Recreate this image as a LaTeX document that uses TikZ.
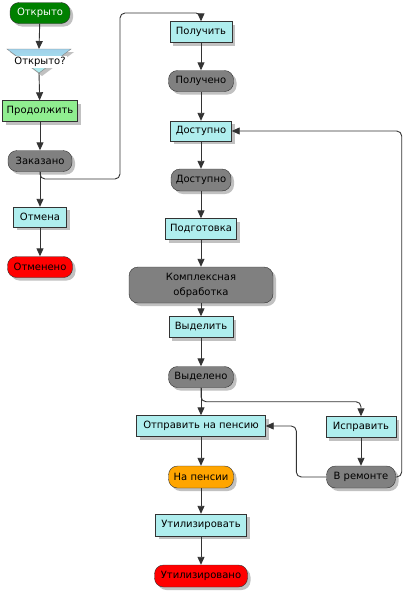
\documentclass[tikz,border=0pt]{standalone}
\usepackage{fontspec}
\setmainfont{DejaVu Sans}
\usepackage{xcolor}
\usepackage{tikz}
\usetikzlibrary{shadows}
\usetikzlibrary{arrows.meta}

\definecolor{turq}{RGB}{175,238,238}
\definecolor{palegr}{RGB}{144,238,144}
\definecolor{darkgr}{RGB}{0,128,0}
\definecolor{ltblue}{RGB}{160,210,235}
\definecolor{orng}{RGB}{255,165,0}

\begin{document}
\begin{tikzpicture}[
	x=1pt,y=-1pt,
	font=\fontsize{10}{15}\selectfont
]
\tikzset{
    myrect/.style = {rectangle, draw=black!80, align=center, fill=turq, minimum height=21pt, inner sep=2pt,
                     drop shadow={shadow xshift=3pt,shadow yshift=-3pt,fill=black!35,opacity=0.7}},
    mystate/.style = {myrect, rounded corners=9pt, fill=gray},
    myline/.style = {draw=black!80, line width=0.9pt, -{Triangle[length=8pt,width=7pt]}, rounded corners=5pt}
}
\useasboundingbox (0,0) rectangle (405,592);

% left column
\node[mystate,fill=darkgr,text=white,minimum width=60pt] (otk) at (40,13) {Открыто};
\fill[black!35,opacity=0.7] (10,52) -- (74,52) -- (42,76) -- cycle;
\draw[draw=black!50,top color=ltblue,bottom color=turq] (7,49) -- (71,49) -- (39,73) -- cycle;
\coordinate (qtop) at (39,49);
\coordinate (qtip) at (39,73);
\node[fill=white,inner sep=1pt] (q) at (40,62) {Открыто?};
\node[myrect,fill=palegr,minimum width=75pt] (prod) at (40,111) {Продолжить};
\node[mystate,minimum width=64pt] (zak) at (40,161) {Заказано};
\node[myrect,minimum width=53pt,minimum height=20pt] (otm) at (40,217) {Отмена};
\node[mystate,fill=red,minimum width=65pt] (otmd) at (40,267) {Отменено};

% right column
\node[myrect,minimum width=62pt] (pol) at (201,32) {Получить};
\node[mystate,minimum width=65pt] (polo) at (201,81) {Получено};
\node[myrect,minimum width=61pt,minimum height=20pt] (dost) at (201,131) {Доступно};
\node[mystate,minimum width=60pt,minimum height=22pt] (dosto) at (201,180) {Доступно};
\node[myrect,minimum width=71pt] (podg) at (201,229) {Подготовка};
\node[mystate,minimum width=144pt,minimum height=36pt] (kompl) at (201,285) {Комплексная\\обработка};
\node[myrect,minimum width=64pt] (vyd) at (201,327) {Выделить};
\node[mystate,minimum width=65pt] (vydo) at (201,377) {Выделено};
\node[myrect,minimum width=129pt] (otpr) at (201,426) {Отправить на пенсию};
\node[myrect,minimum width=70pt] (ispr) at (361,427) {Исправить};
\node[mystate,fill=orng,minimum width=65pt,minimum height=22pt] (nap) at (201,477) {На пенсии};
\node[mystate,minimum width=69pt,minimum height=22pt] (rem) at (361,477) {В ремонте};
\node[myrect,minimum width=91pt,minimum height=22pt] (util) at (201,525) {Утилизировать};
\node[mystate,fill=red,minimum width=93pt,minimum height=22pt] (utilo) at (201,576) {Утилизировано};

\coordinate (tb) at (120,179);
\coordinate (ta) at (120,13);

% connectors
\draw[myline] (otk) -- (qtop);
\draw[myline] (qtip) -- (prod);
\draw[myline] (prod) -- (zak);
\draw[myline] (zak) -- (otm);
\draw[myline] (otm) -- (otmd);
\draw[myline] (zak.south) |- (tb) -- (ta) -| (pol.north);
\draw[myline] (pol) -- (polo);
\draw[myline] (polo) -- (dost);
\draw[myline] (dost) -- (dosto);
\draw[myline] (dosto) -- (podg);
\draw[myline] (podg) -- (kompl);
\draw[myline] (kompl) -- (vyd);
\draw[myline] (vyd) -- (vydo);
\draw[myline] (vydo) -- (otpr);
\draw[myline] (vydo.south) -- ++(0,14) -| (ispr.north);
\draw[myline] (ispr) -- (rem);
\draw[myline] (rem.west) -- ++(-30,0) |- (otpr.east);
\draw[myline] (rem.east) -- ++(6,0) |- (dost.east);
\draw[myline] (otpr) -- (nap);
\draw[myline] (nap) -- (util);
\draw[myline] (util) -- (utilo);
\end{tikzpicture}
\end{document}
